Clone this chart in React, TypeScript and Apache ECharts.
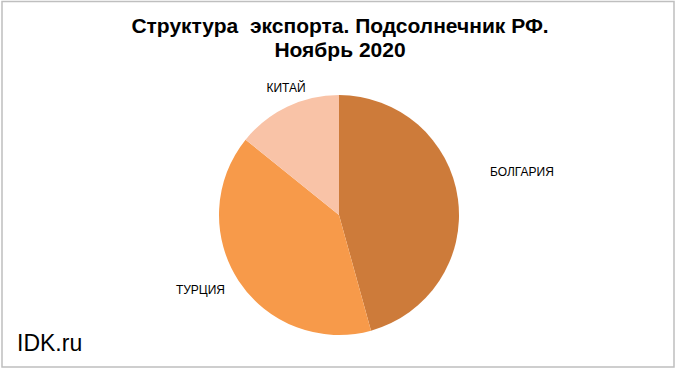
import React, { useEffect, useRef } from "react";
import * as echarts from "echarts";

const titleLines = ["Структура  экспорта. Подсолнечник РФ.", "Ноябрь 2020"];
const categories = ["БОЛГАРИЯ", "ТУРЦИЯ", "КИТАЙ"];
const values = [45.7, 40.1, 14.2];
const colors = ["#CD7B3A", "#F79A4A", "#F9C3A7"];
const watermark = "IDK.ru";

export default function App() {
  const ref = useRef<HTMLDivElement>(null);
  useEffect(() => {
    document.body.style.margin = "0";
    const chart = echarts.init(ref.current!, null, { renderer: "svg" });
    const labelPos: Record<number, { x: number; y: number; align: string }> = {
      0: { x: 490, y: 172, align: "left" },
      1: { x: 225, y: 290, align: "right" },
      2: { x: 286, y: 88, align: "center" },
    };
    chart.setOption({
      animation: false,
      backgroundColor: "#ffffff",
      title: {
        text: titleLines.join("\n"),
        left: "center",
        top: 8,
        textStyle: {
          fontFamily: "Liberation Sans, Arial, sans-serif",
          fontSize: 21,
          fontWeight: "bold",
          color: "#000",
          lineHeight: 24,
        },
      },
      graphic: [
        {
          type: "rect",
          shape: { x: 2, y: 1.5, width: 672, height: 365.5 },
          style: { fill: "none", stroke: "#bfbfbf", lineWidth: 1.5 },
          silent: true,
        },
        {
          type: "text",
          left: 17,
          top: 331,
          style: {
            text: watermark,
            fontFamily: "Liberation Sans, Arial, sans-serif",
            fontSize: 23,
            fill: "#000",
          },
        },
      ],
      series: [
        {
          type: "pie",
          center: [339, 215],
          radius: 120,
          startAngle: 90,
          clockwise: true,
          data: categories.map((c, i) => ({
            name: c,
            value: values[i],
            itemStyle: { color: colors[i] },
          })),
          label: {
            show: true,
            position: "outside",
            formatter: "{b}",
            fontFamily: "Liberation Sans, Arial, sans-serif",
            fontSize: 12,
            color: "#000",
          },
          labelLine: { show: false },
          labelLayout: (params: any) => {
            const p = labelPos[params.dataIndex];
            return { x: p.x, y: p.y, align: p.align, verticalAlign: "middle" };
          },
          emphasis: { disabled: true },
        },
      ],
    });
    return () => chart.dispose();
  }, []);
  return <div ref={ref} style={{ width: 680, height: 374 }} />;
}
